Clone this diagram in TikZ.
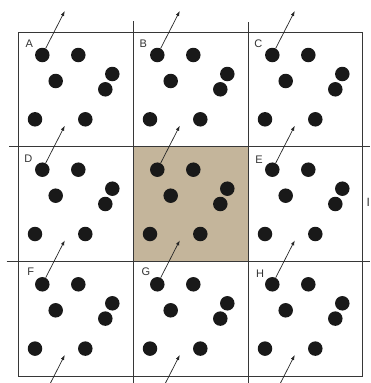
\documentclass[tikz,border=0pt]{standalone}
\usepackage{fontspec}
\setmainfont{Liberation Sans}
\usetikzlibrary{arrows.meta,calc}
\definecolor{tan}{RGB}{196,181,155}
\definecolor{gridcol}{RGB}{55,55,55}
\tikzset{
  gridline/.style={draw=gridcol,line width=0.9pt},
  particle/.style={circle,fill=black!90,inner sep=0pt,minimum size=14.5pt},
  vel/.style={draw=black!85,line width=0.7pt,-{Latex[length=5pt,width=3.6pt]}},
  lbl/.style={font=\fontsize{11}{12}\selectfont,text=black!80,inner sep=0pt}
}
\begin{document}
\begin{tikzpicture}[x=1pt,y=-1pt]
\useasboundingbox (0,0) rectangle (370,383);
\clip (0,0) rectangle (370,383);
% shaded central cell
\fill[tan] (133,146.7) rectangle (248,261.3);
% grid
\draw[gridline] (18,32) rectangle (362,376);
\draw[gridline] (133,21) coordinate (v1a) -- (133,383) coordinate (v1b);
\draw[gridline] (248,22) coordinate (v2a) -- (248,383) coordinate (v2b);
\draw[gridline] (9.3,146.7) coordinate (h1a) -- (370,146.7) coordinate (h1b);
\draw[gridline] (6.7,261.3) coordinate (h2a) -- (370,261.3) coordinate (h2b);
% particles in the 3x3 cells plus the image row below (arrows only)
\foreach \c/\X in {1/18,2/133,3/248}{
  \foreach \r/\Y in {1/32,2/146.7,3/261.3,4/376}{
    \ifnum\r<4
      \node[particle] (p1-\c-\r) at (\X+24.3,\Y+23) {};
      \node[particle] (p2-\c-\r) at (\X+60.3,\Y+23) {};
      \node[particle] (p3-\c-\r) at (\X+37.7,\Y+49) {};
      \node[particle] (p4-\c-\r) at (\X+94.3,\Y+42) {};
      \node[particle] (p5-\c-\r) at (\X+87.3,\Y+57.3) {};
      \node[particle] (p6-\c-\r) at (\X+17,\Y+87.3) {};
      \node[particle] (p7-\c-\r) at (\X+67.3,\Y+87.3) {};
    \else
      \node[circle,inner sep=0pt,minimum size=14.5pt] (p1-\c-\r) at (\X+24.3,\Y+23) {};
    \fi
    \coordinate (t-\c-\r) at ($(p1-\c-\r)+(22.5,-44)$);
    \draw[vel] (p1-\c-\r) -- (t-\c-\r);
  }
}
% cell labels
\node[lbl] (lA) at (29.3,43.3) {A};
\node[lbl] (lB) at (143.3,43.3) {B};
\node[lbl] (lC) at (258.3,43.3) {C};
\node[lbl] (lD) at (28.3,158.5) {D};
\node[lbl] (lE) at (259,159.3) {E};
\node[lbl] (lF) at (30.7,271.7) {F};
\node[lbl] (lG) at (146,271.7) {G};
\node[lbl] (lH) at (260,273.7) {H};
\node[lbl,font=\fontsize{12}{12}\selectfont] (lI) at (368.3,202) {I};
\end{tikzpicture}
\end{document}
